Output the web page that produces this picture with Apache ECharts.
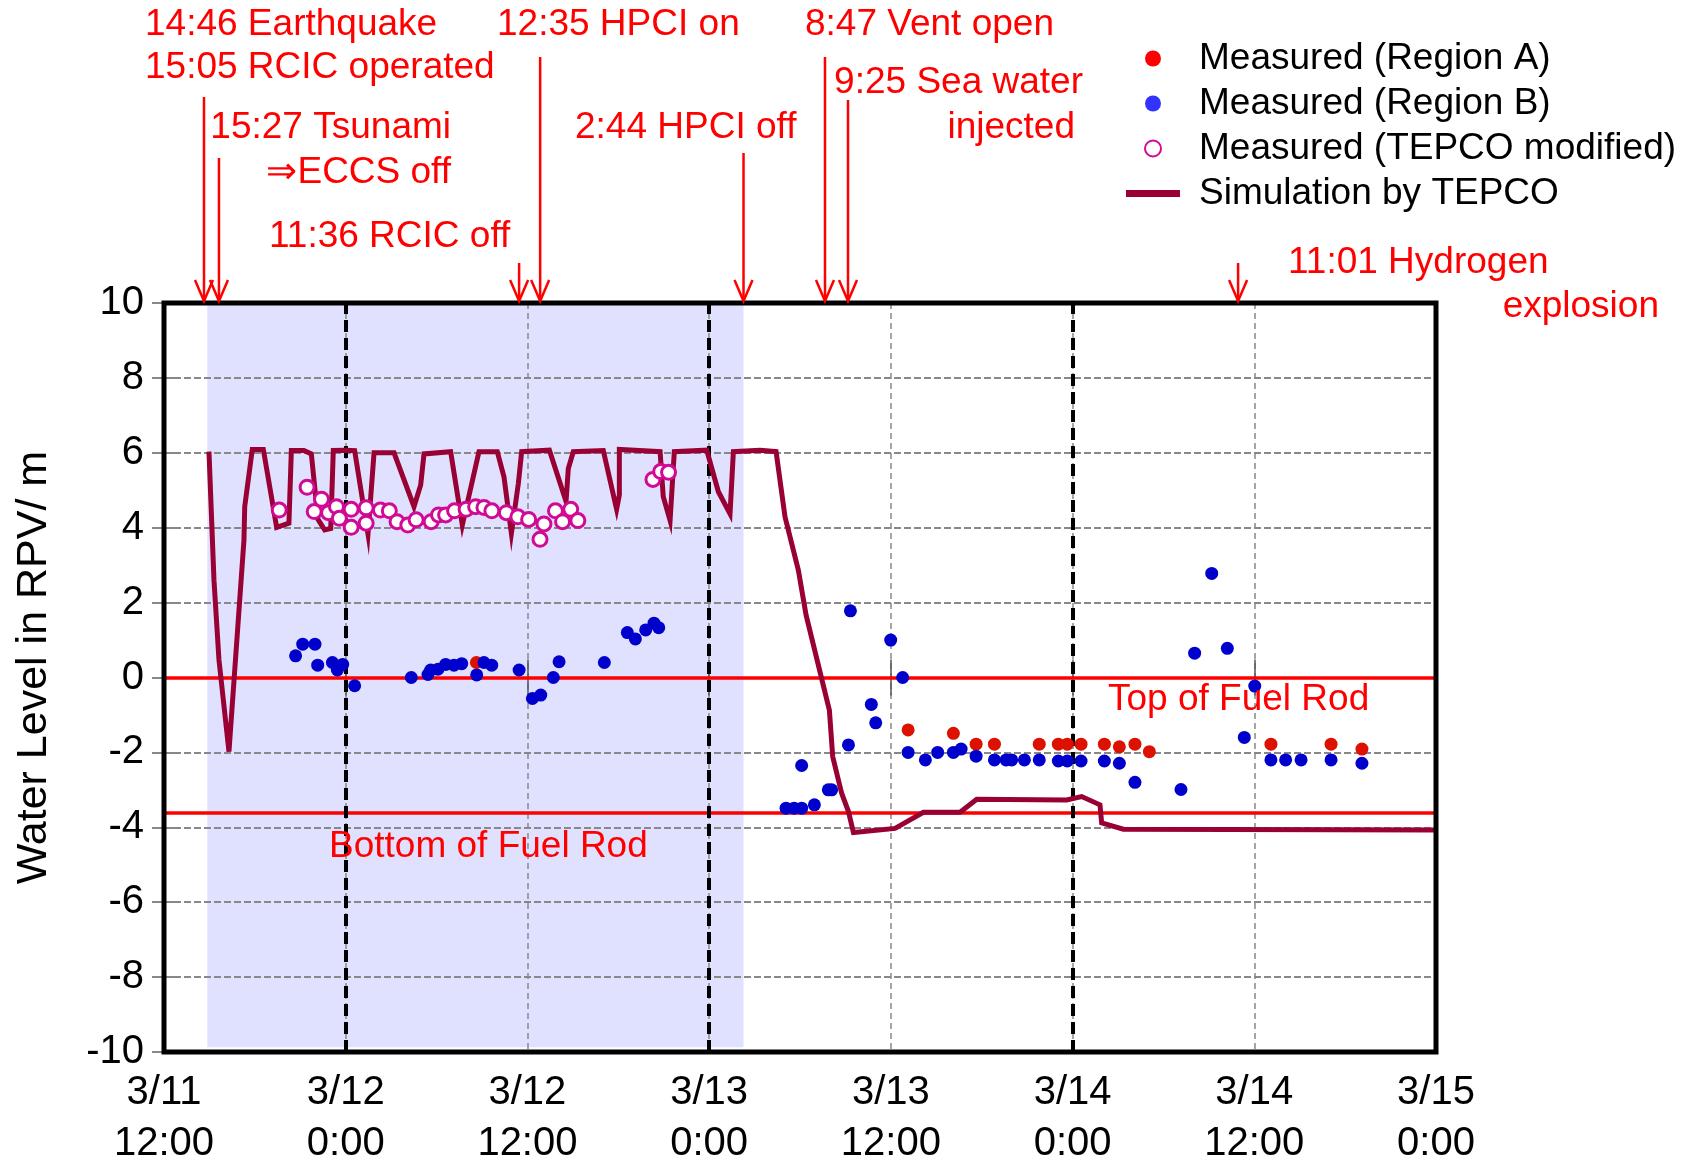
<!DOCTYPE html>
<html><head><meta charset="utf-8">
<script src="https://cdn.jsdelivr.net/npm/echarts/dist/echarts.min.js"></script>
<style>html,body{margin:0;padding:0;background:#fff}#c{width:1687px;height:1162px}</style>
</head><body><div id="c"></div>
<script>
// ---- data (x in hours after 3/11 12:00, y = water level in m) ----
const xTickLabels = ['3/11\n12:00','3/12\n0:00','3/12\n12:00','3/13\n0:00','3/13\n12:00','3/14\n0:00','3/14\n12:00','3/15\n0:00'];
const midnightHours = [12, 36, 60];
const topOfFuelRod = 0;
const bottomOfFuelRod = -3.62;
const shadeStartHour = 2.86;
const shadeEndHour = 38.27;

const simHours = [2.97,3.30,3.63,4.29,5.28,5.33,5.83,6.56,7.44,8.25,8.41,9.24,9.73,10.17,10.61,11.01,11.18,12.0,12.59,13.47,13.87,15.19,16.51,16.95,17.17,18.93,19.70,20.80,22.01,22.45,22.94,23.40,23.62,25.45,26.55,26.70,27.03,29.01,29.89,30.07,30.07,32.76,32.97,33.42,33.70,35.84,36.61,37.38,37.60,39.36,40.42,41.01,41.89,42.40,43.94,44.16,44.75,45.20,45.53,48.28,50.15,52.57,53.67,59.61,60.60,61.81,61.92,63.35,84];
const simLevel = [6.03,2.60,0.47,-1.98,3.67,4.56,6.09,6.09,4.01,4.12,6.06,6.06,5.97,4.22,3.94,3.98,6.06,6.07,6.06,3.83,6.0,6.0,4.56,5.14,5.97,6.03,4.07,6.03,6.03,5.36,3.85,5.18,6.03,6.07,4.70,5.58,6.03,6.06,4.49,4.87,6.09,6.03,4.83,4.19,6.03,6.07,4.96,4.37,6.03,6.07,6.03,4.29,2.87,1.67,-0.87,-2.11,-3.09,-3.58,-4.14,-4.03,-3.6,-3.6,-3.25,-3.27,-3.18,-3.40,-3.88,-4.05,-4.07];

const regionAHours = [20.63,49.14,52.13,53.63,54.84,57.8,59.06,59.65,60.56,62.1,63.09,64.12,65.07,73.1,77.07,79.11];
const regionALevel = [0.40,-1.40,-1.49,-1.78,-1.78,-1.78,-1.78,-1.78,-1.78,-1.78,-1.85,-1.78,-1.98,-1.78,-1.78,-1.91];

const regionBHours = [8.69,9.16,9.97,10.15,11.12,11.45,11.80,12.59,16.33,17.43,17.61,18.09,18.6,19.15,19.66,20.65,21.13,21.64,23.45,24.33,24.88,25.71,26.09,29.08,30.60,31.13,31.81,32.36,32.67,41.08,41.61,42.11,42.11,42.95,43.87,44.09,45.20,45.33,46.71,47.0,47.99,48.78,49.14,50.28,51.09,52.13,52.64,53.63,54.84,55.61,55.98,56.82,57.8,59.06,59.65,60.56,62.1,63.09,64.12,67.16,68.06,69.19,70.22,71.34,72.03,73.1,74.07,75.09,77.07,79.11];
const regionBLevel = [0.58,0.89,0.89,0.33,0.40,0.20,0.35,-0.22,0.0,0.08,0.20,0.22,0.35,0.33,0.37,0.07,0.40,0.33,0.20,-0.56,-0.47,0.0,0.42,0.40,1.20,1.03,1.27,1.45,1.33,-3.49,-3.49,-3.49,-2.35,-3.40,-3.0,-3.0,-1.80,1.78,-0.72,-1.21,1.0,0.0,-2.0,-2.2,-2.0,-2.0,-1.91,-2.10,-2.2,-2.2,-2.2,-2.2,-2.2,-2.23,-2.23,-2.23,-2.23,-2.29,-2.80,-2.99,0.65,2.78,0.78,-1.60,-0.23,-2.2,-2.2,-2.2,-2.2,-2.29];

const tepcoHours = [7.61,9.45,9.92,10.40,10.87,11.39,11.58,12.36,12.36,13.35,13.35,14.29,14.88,15.39,16.1,16.65,17.64,18.13,18.6,19.19,19.95,20.58,21.13,21.65,22.61,23.37,24.08,25.09,24.83,25.85,26.32,26.86,27.33,32.29,32.80,33.32];
const tepcoLevel = [4.47,5.08,4.43,4.76,4.40,4.56,4.25,4.49,4.01,4.53,4.12,4.47,4.45,4.16,4.07,4.21,4.16,4.34,4.34,4.45,4.49,4.56,4.54,4.45,4.40,4.29,4.22,4.10,3.69,4.45,4.16,4.49,4.19,5.29,5.50,5.48];

// event arrows (time in hours) and their annotation texts
const eventHours = [2.64,3.63,23.45,24.84,38.27,43.65,45.17,70.93];
const annotations = [
  '14:46 Earthquake','15:05 RCIC operated','15:27 Tsunami','\u21D2ECCS off','11:36 RCIC off',
  '12:35 HPCI on','2:44 HPCI off','8:47 Vent open','9:25 Sea water','injected',
  '11:01 Hydrogen','explosion','Top of Fuel Rod','Bottom of Fuel Rod'
];

// ---- layout / style ----
const F = '"Liberation Sans", Arial, Helvetica, sans-serif';
const arrowTopY = [97,158,263,57,153,57,100,263];
const annPos = [
  [145,25,'left'],[145,68,'left'],[451,128,'right'],[451,173,'right'],[269,237,'left'],
  [497,25,'left'],[575,128,'left'],[805,25,'left'],[1083,83,'right'],[1075,128,'right'],
  [1288,263,'left'],[1659,307,'right'],[1108,700,'left'],[329,847,'left']
];

const zip = (a,b) => a.map((v,i)=>[v,b[i]]);

const chart = echarts.init(document.getElementById('c'), null, {renderer:'canvas', width:1687, height:1162});

const axisCommonX = {type:'value', min:0, max:84, interval:12, z:2};
const option = {
  animation:false,
  backgroundColor:'#fff',
  grid:{left:164, right:251, top:303, bottom:110, outerBoundsMode:'none', containLabel:false},
  legend:{
    orient:'vertical', left:1126, top:40, padding:0, itemGap:8, itemWidth:54, itemHeight:16,
    textStyle:{fontSize:37, fontFamily:F, color:'#000', lineHeight:37, padding:[0,0,0,14]},
    data:[
      {name:'Measured (Region A)', itemStyle:{color:'#FF0000', opacity:1}},
      {name:'Measured (Region B)', itemStyle:{color:'#3333FF', opacity:1}},
      {name:'Measured (TEPCO modified)', itemStyle:{opacity:1}},
      {name:'Simulation by TEPCO', icon:'path://M0 0H54V7H0Z', itemStyle:{color:'#990033', opacity:1}}
    ]
  },
  xAxis:[
    Object.assign({}, axisCommonX, {
      position:'bottom',
      axisLine:{show:false},
      axisTick:{show:true, inside:true, length:18, lineStyle:{color:'#555', width:1.5}},
      axisLabel:{show:true, fontSize:40, lineHeight:51, fontFamily:F, color:'#000', margin:15,
        formatter:(v)=>xTickLabels[Math.round(v/12)]},
      splitLine:{show:true, lineStyle:{color:'#888', width:1.5, type:[6,4]}}
    }),
    Object.assign({}, axisCommonX, {
      position:'top',
      axisLine:{show:false},
      axisTick:{show:true, inside:true, length:18, lineStyle:{color:'#555', width:1.5}},
      axisLabel:{show:false}, splitLine:{show:false}
    })
  ],
  yAxis:[
    {type:'value', min:-10, max:10, interval:2, position:'left', z:2,
      name:'Water Level in RPV/ m', nameLocation:'middle', nameRotate:90, nameGap:108,
      nameTextStyle:{fontSize:43, fontFamily:F, color:'#000', padding:[0,0,0,20]},
      axisLine:{show:false},
      axisTick:{show:true, inside:true, length:12, lineStyle:{color:'#888', width:2}},
      axisLabel:{fontSize:40, fontFamily:F, color:'#000', margin:20},
      splitLine:{show:true, lineStyle:{color:'#888', width:2, type:[7,3]}}
    },
    {type:'value', min:-10, max:10, interval:2, position:'right', z:2,
      axisLine:{show:false},
      axisTick:{show:true, inside:true, length:12, lineStyle:{color:'#888', width:2}},
      axisLabel:{show:false}, splitLine:{show:false}
    }
  ],
  series:[
    {name:'shade', type:'line', data:[], silent:true,
      markArea:{silent:true, z:1, itemStyle:{color:'#E0E0FF'},
        data:[[{xAxis:shadeStartHour, yAxis:10},{xAxis:shadeEndHour, yAxis:-9.87}]]}},
    {name:'refs', type:'line', data:[], silent:true,
      markLine:{silent:true, z:3, symbol:'none', label:{show:false},
        data:[
          {yAxis:topOfFuelRod, lineStyle:{color:'#FF0000', width:3.5, type:'solid'}},
          {yAxis:bottomOfFuelRod, lineStyle:{color:'#FF0000', width:3.5, type:'solid'}}
        ].concat(midnightHours.map(h=>({xAxis:h, lineStyle:{color:'#000', width:4, type:[12,6]}})))}},
    {name:'Simulation by TEPCO', type:'line', z:4, data:zip(simHours, simLevel),
      symbol:'none', showSymbol:false, lineStyle:{color:'#990033', width:5, join:'miter'}, itemStyle:{color:'#990033'}},
    {name:'Measured (Region A)', type:'scatter', z:5, data:zip(regionAHours, regionALevel),
      symbol:'circle', symbolSize:13, itemStyle:{color:'#DD1100', opacity:1}},
    {name:'Measured (Region B)', type:'scatter', z:5, data:zip(regionBHours, regionBLevel),
      symbol:'circle', symbolSize:13, itemStyle:{color:'#0000CC', opacity:1}},
    {name:'Measured (TEPCO modified)', type:'scatter', z:6, data:zip(tepcoHours, tepcoLevel),
      symbol:'circle', symbolSize:14, itemStyle:{color:'#FFFFFF', borderColor:'#D10A96', borderWidth:3, opacity:1}}
  ]
};
chart.setOption(option);

// frame, event arrows and annotation texts
const g = [];
const tl = chart.convertToPixel({gridIndex:0}, [0, 10]);
const br = chart.convertToPixel({gridIndex:0}, [84, -10]);
g.push({type:'rect', silent:true, z:15, shape:{x:tl[0], y:tl[1], width:br[0]-tl[0], height:br[1]-tl[1]},
  style:{stroke:'#000', lineWidth:5, fill:null}});
eventHours.forEach((h,i)=>{
  const p = chart.convertToPixel({gridIndex:0}, [h, 10]);
  const x = p[0], tip = p[1] - 2;
  g.push({type:'line', silent:true, z:20, shape:{x1:x, y1:arrowTopY[i], x2:x, y2:tip}, style:{stroke:'#FF0000', lineWidth:2.5}});
  g.push({type:'polyline', silent:true, z:20, shape:{points:[[x-9,tip-21],[x,tip],[x+9,tip-21]]}, style:{stroke:'#FF0000', lineWidth:2.5, fill:null}});
});
annotations.forEach((t,i)=>{
  const a = annPos[i];
  g.push({type:'text', silent:true, z:20, x:a[0], y:a[1],
    style:{text:t, fill:'#FF0000', font:'37px ' + F, align:a[2], verticalAlign:'middle'}});
});
chart.setOption({graphic:g});
</script></body></html>
